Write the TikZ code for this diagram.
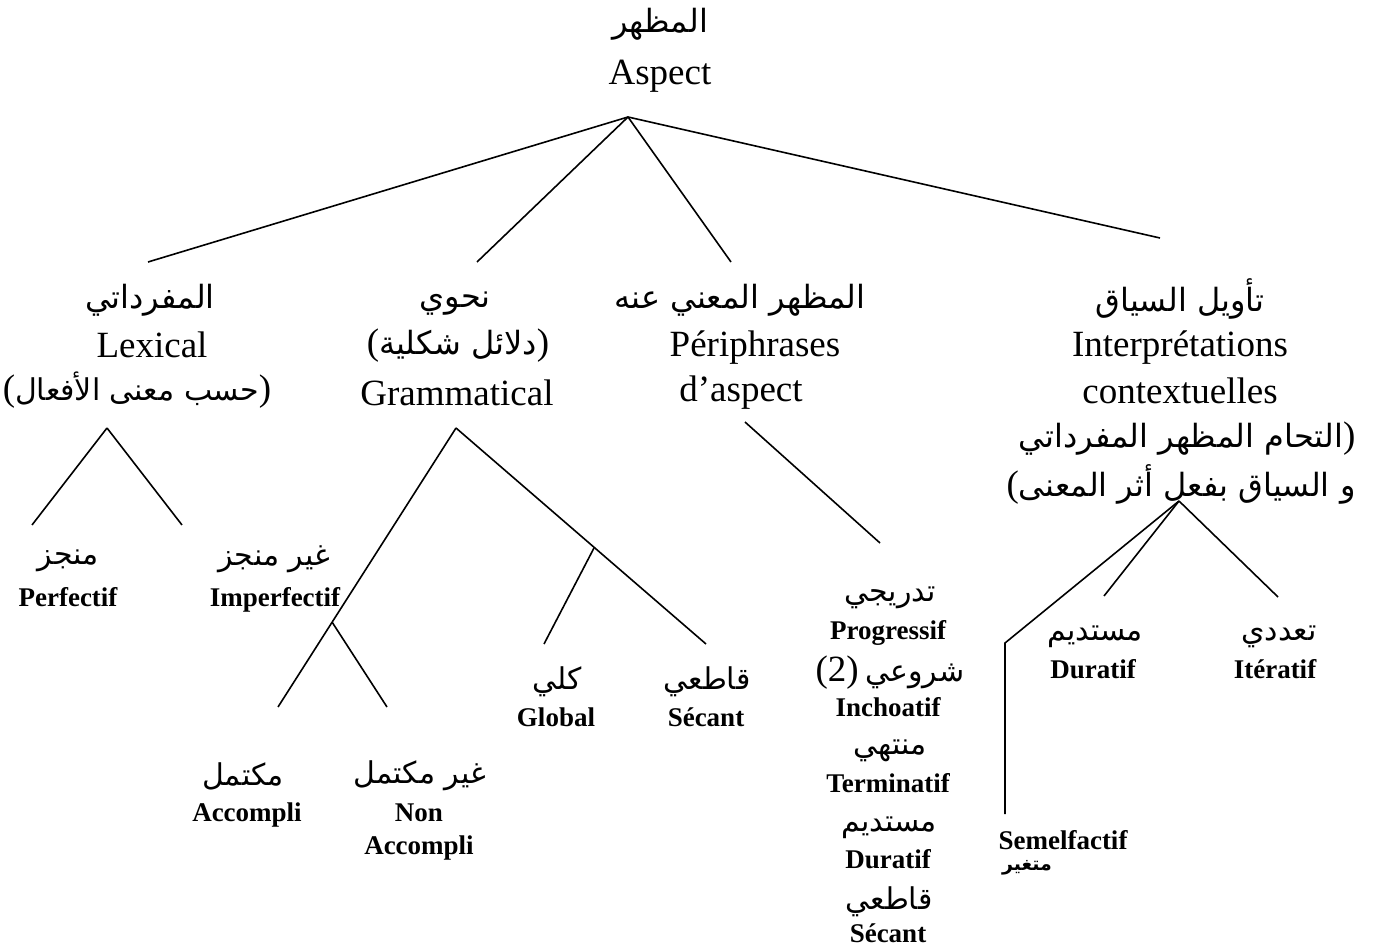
\documentclass[tikz,border=0pt]{standalone}
\usepackage{fontspec}
\setmainfont{Liberation Serif}
\newfontfamily\arabicfont[Script=Arabic]{DejaVu Sans}
\TeXXeTstate=1
\newcommand{\ar}[1]{{\arabicfont\mdseries\fontsize{15}{18}\selectfont\beginR #1\endR}}
\newcommand{\arbig}[1]{{\arabicfont\mdseries\fontsize{16}{19}\selectfont\beginR #1\endR}}
\newcommand{\arsmall}[1]{{\arabicfont\bfseries\fontsize{9.5}{11}\selectfont\beginR #1\endR}}
\tikzset{
  big/.style={font=\fontsize{18.5}{23.5}\selectfont, inner sep=0pt},
  leaf/.style={font=\fontsize{13.5}{16.5}\selectfont\bfseries, inner sep=0pt},
  branch/.style={line width=0.8pt}
}
\begin{document}
\begin{tikzpicture}[x=0.5pt,y=-0.5pt]
  \useasboundingbox (0,0) rectangle (1388,946);
  % root
  \node[big] (aspectAr) at (660,24) {\arbig{المظهر}};
  \node[big] (aspect) at (660,76) {Aspect};
  % first level
  \node[big] (lexAr) at (150,300) {\arbig{المفرداتي}};
  \node[big] (lex) at (152,345) {Lexical};
  \node[big] (lexNote) at (137,390) {(\ar{حسب معنى الأفعال})};
  \node[big] (gramAr) at (455,304) {\arbig{نحوي}};
  \node[big] (gramNote) at (458,346) {(\arbig{دلائل شكلية})};
  \node[big] (gram) at (457,393) {Grammatical};
  \node[big] (periAr) at (740,300) {\arbig{المظهر المعني عنه}};
  \node[big] (peri) at (755,348) {Périphrases};
  \node[big] (periAsp) at (741,393) {d’aspect};
  \node[big] (interpAr) at (1180,299) {\arbig{تأويل السياق}};
  \node[big] (interp) at (1180,348) {Interprétations};
  \node[big] (interpCtx) at (1180,391) {contextuelles};
  \node[big] (interpNoteA) at (1187,439) {\arbig{التحام المظهر المفرداتي})};
  \node[big] (interpNoteB) at (1181,484) {(\arbig{و السياق بفعل أثر المعنى}};
  % leaves
  \node[leaf] (perfAr) at (68,561) {\ar{منجز}};
  \node[leaf] (perf) at (68,597) {Perfectif};
  \node[leaf] (imperfAr) at (274,559) {\ar{غير منجز}};
  \node[leaf] (imperf) at (275,600) {Imperfectif};
  \node[leaf] (accAr) at (243,776) {\ar{مكتمل}};
  \node[leaf] (acc) at (247,815) {Accompli};
  \node[leaf] (nonaccAr) at (420,776) {\ar{غير مكتمل}};
  \node[leaf] (nonacc) at (419,813) {Non};
  \node[leaf] (nonaccB) at (419,848) {Accompli};
  \node[leaf] (globAr) at (557,682) {\ar{كلي}};
  \node[leaf] (glob) at (556,717) {Global};
  \node[leaf] (secAr) at (707,682) {\ar{قاطعي}};
  \node[leaf] (sec) at (706,717) {Sécant};
  \node[leaf] (progAr) at (890,598) {\ar{تدريجي}};
  \node[leaf] (prog) at (888,633) {Progressif};
  \node[leaf] (inchAr) at (890,673) {{\mdseries\fontsize{18.5}{20}\selectfont(2)} \ar{شروعي}};
  \node[leaf] (inch) at (888,707) {Inchoatif};
  \node[leaf] (termAr) at (890,751) {\ar{منتهي}};
  \node[leaf] (term) at (888,783) {Terminatif};
  \node[leaf] (durPAr) at (889,828) {\ar{مستديم}};
  \node[leaf] (durP) at (888,859) {Duratif};
  \node[leaf] (secPAr) at (889,902) {\ar{قاطعي}};
  \node[leaf] (secP) at (888,933) {Sécant};
  \node[leaf] (durAr) at (1095,637) {\ar{مستديم}};
  \node[leaf] (dur) at (1093,669) {Duratif};
  \node[leaf] (iterAr) at (1279,637) {\ar{تعددي}};
  \node[leaf] (iter) at (1275,669) {Itératif};
  \node[leaf] (semel) at (1063,840) {Semelfactif};
  \node[leaf] (semelAr) at (1027,868) {\arsmall{متغير}};
  % ends of the branches
  \coordinate (top) at (628,117);
  \coordinate (lexEnd) at (148,262);
  \coordinate (gramEnd) at (477,262);
  \coordinate (periEnd) at (731,262);
  \coordinate (interpEnd) at (1160,238);
  \coordinate (lexTop) at (107,428);
  \coordinate (perfEnd) at (32,525);
  \coordinate (imperfEnd) at (182,525);
  \coordinate (gramTop) at (456,428);
  \coordinate (imperfJoin) at (332,622);
  \coordinate (accEnd) at (278,707);
  \coordinate (nonaccEnd) at (387,707);
  \coordinate (secJoin) at (594,548);
  \coordinate (globEnd) at (544,644);
  \coordinate (secEnd) at (706,644);
  \coordinate (periTop) at (745,422);
  \coordinate (progEnd) at (880,543);
  \coordinate (interpTop) at (1179,501);
  \coordinate (semelBend) at (1005,643);
  \coordinate (semelEnd) at (1005,814);
  \coordinate (durEnd) at (1104,596);
  \coordinate (iterEnd) at (1278,597);
  \begin{scope}[branch]
    \draw (top) -- (lexEnd);
    \draw (top) -- (gramEnd);
    \draw (top) -- (periEnd);
    \draw (top) -- (interpEnd);
    \draw (lexTop) -- (perfEnd);
    \draw (lexTop) -- (imperfEnd);
    \draw (gramTop) -- (accEnd);
    \draw (imperfJoin) -- (nonaccEnd);
    \draw (gramTop) -- (secEnd);
    \draw (secJoin) -- (globEnd);
    \draw (periTop) -- (progEnd);
    \draw (interpTop) -- (semelBend) -- (semelEnd);
    \draw (interpTop) -- (durEnd);
    \draw (interpTop) -- (iterEnd);
  \end{scope}
\end{tikzpicture}
\end{document}
